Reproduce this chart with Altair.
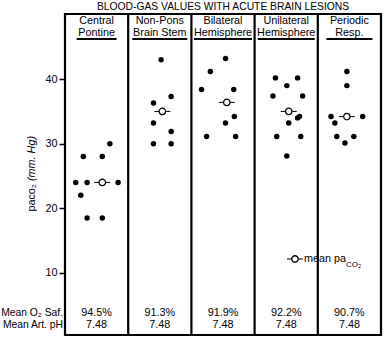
import altair as alt
import pandas as pd

# ---- data ----
groups = ["Central Pontine", "Non-Pons Brain Stem", "Bilateral Hemisphere",
          "Unilateral Hemisphere", "Periodic Resp."]
head1 = ["Central", "Non-Pons", "Bilateral", "Unilateral", "Periodic"]
head2 = ["Pontine", "Brain Stem", "Hemisphere", "Hemisphere", "Resp."]
o2_sat = ["94.5%", "91.3%", "91.9%", "92.2%", "90.7%"]
art_ph = ["7.48", "7.48", "7.48", "7.48", "7.48"]

paco2 = [
    [28, 28, 30, 24, 24, 24, 22, 18.5, 18.5],
    [43, 36.3, 37.3, 33.2, 31.9, 30, 30],
    [43.2, 41.2, 38.4, 38.4, 34.2, 33.2, 31.1, 31.1],
    [40.2, 40.2, 39, 37.4, 37.4, 34.2, 34, 33.2, 31.1, 31.1, 28.1],
    [41.2, 39, 34.2, 34.2, 33.2, 31.1, 31.1, 30.1],
]
# horizontal position of each dot inside its column (0 = left edge, 1 = right edge)
spread = [
    [0.29, 0.59, 0.71, 0.17, 0.35, 0.84, 0.25, 0.35, 0.59],
    [0.52, 0.40, 0.68, 0.40, 0.68, 0.40, 0.68],
    [0.54, 0.30, 0.16, 0.67, 0.68, 0.54, 0.24, 0.70],
    [0.33, 0.68, 0.51, 0.29, 0.76, 0.71, 0.68, 0.54, 0.35, 0.73, 0.51],
    [0.46, 0.46, 0.21, 0.71, 0.27, 0.30, 0.57, 0.43],
]
mean_paco2 = [24, 35, 36.4, 35, 34.2]
mean_pos = [0.59, 0.54, 0.56, 0.54, 0.46]
underline_px = [40, 55, 58, 57, 46]

# ---- tables ----
pts = pd.DataFrame([
    {"group": g, "x": i + s, "paco2": v}
    for i, g in enumerate(groups)
    for v, s in zip(paco2[i], spread[i])
])
means = pd.DataFrame({"group": groups,
                      "x": [i + p for i, p in enumerate(mean_pos)],
                      "paco2": mean_paco2})
cols = pd.DataFrame({"group": groups, "xc": [i + 0.5 for i in range(5)],
                     "h1": head1, "h2": head2, "o2": o2_sat, "ph": art_ph,
                     "ul": underline_px})
seps = pd.DataFrame({"x": [1, 2, 3, 4]})

W, H = 316, 321
FONT = "Liberation Sans"
FS = 10.8
xs = alt.Scale(domain=[0, 5], nice=False, zero=False)
ys = alt.Scale(domain=[0.35, 50.1], nice=False, zero=False)
X = lambda f: alt.X(f, scale=xs, axis=None)
yaxis = alt.Axis(values=[10, 20, 30, 40], title=None, grid=False,
                 domain=False, tickSize=6, tickWidth=1.5,
                 tickColor="black", labelColor="black",
                 labelFont=FONT, labelFontSize=FS, labelPadding=2)
Y = alt.Y("paco2:Q", scale=ys, axis=yaxis)

dots = alt.Chart(pts).mark_point(filled=True, color="black", size=30, opacity=1).encode(
    x=X("x:Q"), y=Y)

mean_line = alt.Chart(means).transform_calculate(
    x1="datum.x - 8 * 5 / %d" % W, x2="datum.x + 8 * 5 / %d" % W
).mark_rule(color="black", strokeWidth=1).encode(
    x=X("x1:Q"), x2="x2:Q", y=Y)
mean_pt = alt.Chart(means).mark_point(shape="circle", filled=False, fill="white",
                                      fillOpacity=1, stroke="black", strokeWidth=1.3,
                                      size=42, opacity=1).encode(x=X("x:Q"), y=Y)

sep = alt.Chart(seps).mark_rule(color="black", strokeWidth=2.2).encode(x=X("x:Q"))

def txt(df, field, xenc, yv, **kw):
    return alt.Chart(df).mark_text(font=FONT, fontSize=kw.pop("fontSize", FS),
                                   color="black", baseline="middle", **kw).encode(
        x=xenc, y=alt.value(yv), text=field)

h1 = txt(cols, "h1:N", X("xc:Q"), 7)
h2 = txt(cols, "h2:N", X("xc:Q"), 19)
ul = alt.Chart(cols).transform_calculate(
    u1="datum.xc - datum.ul / 2 * 5 / %d" % W,
    u2="datum.xc + datum.ul / 2 * 5 / %d" % W
).mark_rule(color="black", strokeWidth=2).encode(
    x=X("u1:Q"), x2="u2:Q", y=alt.value(25))

o2 = txt(cols, "o2:N", X("xc:Q"), 299)
ph = txt(cols, "ph:N", X("xc:Q"), 311)

row1 = txt(pd.DataFrame({"t": ["Mean O₂ Saf."]}), "t:N", alt.value(-2), 299,
           align="right", fontSize=10.3)
row2 = txt(pd.DataFrame({"t": ["Mean Art. pH"]}), "t:N", alt.value(-2), 311,
           align="right", fontSize=10.3)

ylab1 = txt(pd.DataFrame({"t": ["paco₂"]}), "t:N", alt.value(-33), 170,
            angle=270, align="right")
ylab2 = txt(pd.DataFrame({"t": ["(mm. Hg)"]}), "t:N", alt.value(-33), 167,
            angle=270, align="left", fontStyle="italic")

leg_line = alt.Chart(pd.DataFrame({"a": [0]})).mark_rule(color="black", strokeWidth=1).encode(
    x=alt.value(222), x2=alt.value(238), y=alt.value(245))
leg_pt = alt.Chart(pd.DataFrame({"a": [0]})).mark_point(
    shape="circle", filled=False, fill="white", fillOpacity=1, stroke="black",
    strokeWidth=1.3, size=42, opacity=1).encode(x=alt.value(230), y=alt.value(245))
leg_t1 = txt(pd.DataFrame({"t": ["mean pa"]}), "t:N", alt.value(239), 245, align="left")
leg_t2 = txt(pd.DataFrame({"t": ["CO₂"]}), "t:N", alt.value(281), 251, align="left",
             fontSize=8)

chart = alt.layer(
    sep, ul, dots, mean_line, mean_pt, h1, h2, o2, ph, row1, row2, ylab1, ylab2,
    leg_line, leg_pt, leg_t1, leg_t2
).properties(
    width=W, height=H,
    title=alt.TitleParams("BLOOD-GAS VALUES WITH ACUTE BRAIN LESIONS", font=FONT,
                          fontSize=10.3, fontWeight="normal", color="black",
                          anchor="middle", offset=1),
    autosize=alt.AutoSizeParams(type="none"),
    padding={"left": 65, "top": 14, "right": 4, "bottom": 3},
).configure_view(stroke="black", strokeWidth=2.2)

chart.save("out.html", embed_options={"renderer": "svg", "actions": False})
